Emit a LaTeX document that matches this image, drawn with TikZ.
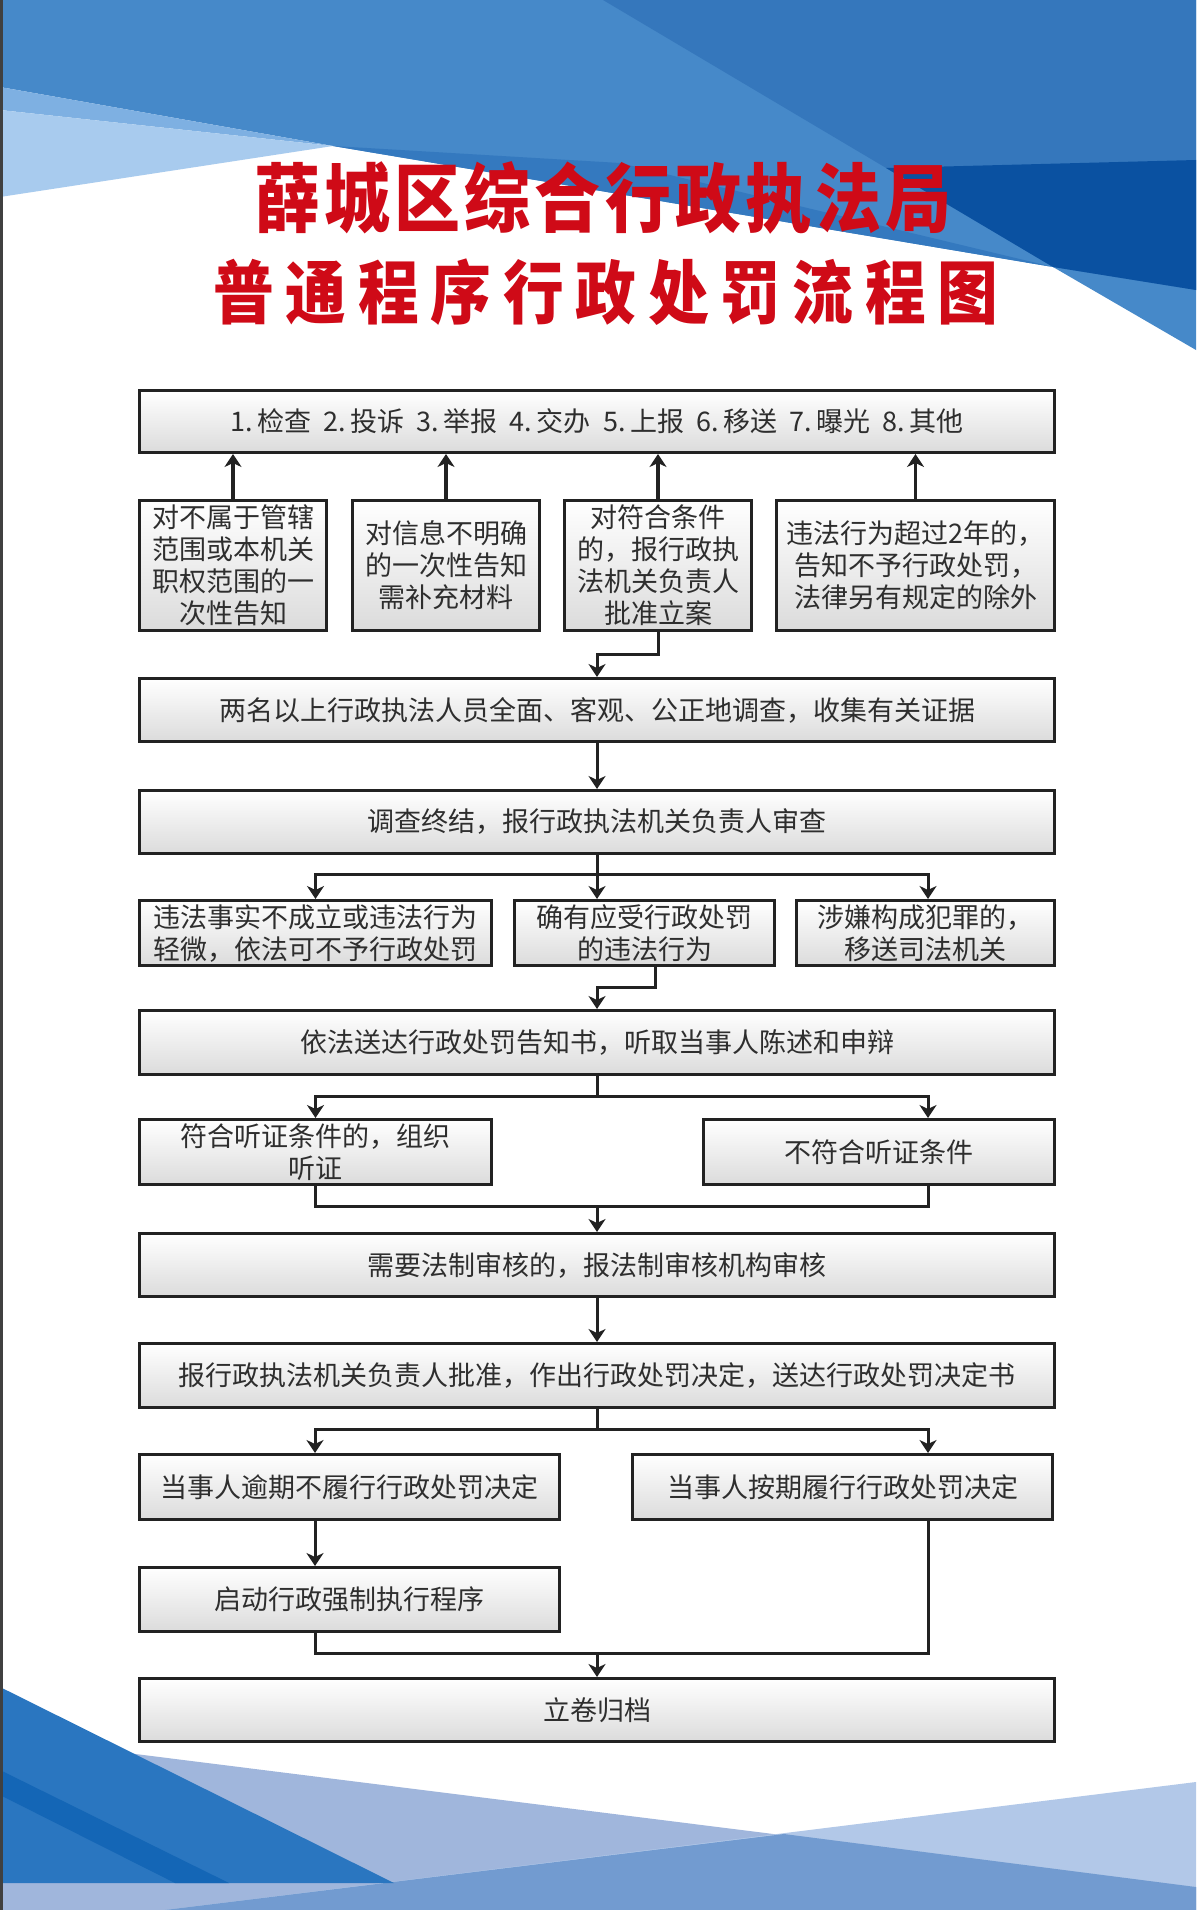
\documentclass[tikz,border=0pt]{standalone}
\usepackage{fontspec}
\newfontfamily\cjk{Noto Sans CJK SC}
\newfontfamily\ttlA{Noto Sans CJK SC}[FakeStretch=0.88, LetterSpace=5.5]
\newfontfamily\ttlB{Noto Sans CJK SC}[FakeStretch=0.88, LetterSpace=17]
\usetikzlibrary{arrows.meta}
\definecolor{bgmid}{HTML}{4689C9}
\definecolor{bgdark}{HTML}{3577BC}
\definecolor{bgdeep}{HTML}{0A51A1}
\definecolor{bgstripe}{HTML}{3479BF}
\definecolor{bgband}{HTML}{7EB0E2}
\definecolor{bgpale}{HTML}{A8CBEE}
\definecolor{bgTa}{HTML}{A0B6DC}
\definecolor{bgTb}{HTML}{B2C8E8}
\definecolor{bgOv}{HTML}{729BD0}
\definecolor{bgBL}{HTML}{2A76C0}
\definecolor{bgBS}{HTML}{1466B6}
\definecolor{boxline}{HTML}{222222}
\definecolor{boxtext}{HTML}{2E2E2E}
\definecolor{titlered}{HTML}{CF0A17}
\begin{document}
\begin{tikzpicture}[x=1pt,y=-1pt,
  box/.style={draw=boxline, line width=3pt, top color=white, bottom color=black!14,
    text=boxtext, font=\cjk\fontsize{27}{32}\selectfont, align=center, inner sep=0pt},
  conn/.style={draw=boxline, line width=3pt},
  arr/.style={conn, -{Stealth[length=13pt,width=17pt,inset=4pt]}},
  uparr/.style={arr, line width=3.6pt},
  ttl/.style={text=titlered, inner sep=0pt}
]
\useasboundingbox (0,0) rectangle (1196,1910);
\fill[white] (0,0) rectangle (1196,1910);
% top background
\fill[bgmid] (0,0) -- (1196,0) -- (1196,350) -- (1053,267) -- (333,146) -- (0,87) -- cycle;
\fill[bgdark] (603,0) -- (1196,0) -- (1196,290) -- (1053,267) -- cycle;
\fill[bgdeep] (886,168) -- (1196,160) -- (1196,290) -- (1053,267) -- cycle;
\fill[bgstripe] (333,146) -- (620,163) -- (1053,267) -- cycle;
\fill[bgband] (0,87) -- (333,146) -- (0,110) -- cycle;
\fill[bgpale] (0,110) -- (333,146) -- (0,197) -- cycle;
% bottom background
\fill[bgTa] (0,1737) -- (1196,1887) -- (1196,1910) -- (0,1910) -- cycle;
\fill[bgTb] (165,1910) -- (1196,1782) -- (1196,1910) -- cycle;
\fill[bgOv] (165,1910) -- (784,1834) -- (1196,1887) -- (1196,1910) -- cycle;
\fill[bgBL] (0,1687) -- (394,1883) -- (0,1883) -- cycle;
\fill[bgBS] (0,1770) -- (229,1883) -- (175,1883) -- (0,1795) -- cycle;
\fill[black!75] (0,0) rectangle (3,1910);

% title
\node[ttl, font=\ttlA\bfseries\fontsize{75}{75}\selectfont] (t1) at (603,197.5) {薛城区综合行政执法局};
\node[ttl, font=\ttlB\bfseries\fontsize{69}{69}\selectfont] (t2) at (606,292.5) {普通程序行政处罚流程图};

% boxes
\node[box, minimum width=915pt, minimum height=62pt] (top) at (597,421.5)
  {1.\,检查\hspace{0.45em}2.\,投诉\hspace{0.45em}3.\,举报\hspace{0.45em}4.\,交办\hspace{0.45em}5.\,上报\hspace{0.45em}6.\,移送\hspace{0.45em}7.\,曝光\hspace{0.45em}8.\,其他};
\node[box, minimum width=187pt, minimum height=130pt] (b1) at (233,565.5) {对不属于管辖\\范围或本机关\\职权范围的一\\次性告知};
\node[box, minimum width=187pt, minimum height=130pt] (b2) at (446,565.5) {对信息不明确\\的一次性告知\\需补充材料};
\node[box, minimum width=187pt, minimum height=130pt] (b3) at (658,565.5) {对符合条件\\的，报行政执\\法机关负责人\\批准立案};
\node[box, minimum width=278pt, minimum height=130pt] (b4) at (915.5,565.5) {违法行为超过2年的，\\告知不予行政处罚，\\法律另有规定的除外};
\node[box, minimum width=915pt, minimum height=63pt] (inv) at (597,710) {两名以上行政执法人员全面、客观、公正地调查，收集有关证据};
\node[box, minimum width=915pt, minimum height=63pt] (rev) at (597,822) {调查终结，报行政执法机关负责人审查};
\node[box, minimum width=352pt, minimum height=65pt] (c1) at (315.5,933) {违法事实不成立或违法行为\\轻微，依法可不予行政处罚};
\node[box, minimum width=260pt, minimum height=65pt] (c2) at (644.5,933) {确有应受行政处罚\\的违法行为};
\node[box, minimum width=258pt, minimum height=65pt] (c3) at (925.5,933) {涉嫌构成犯罪的，\\移送司法机关};
\node[box, minimum width=915pt, minimum height=64pt] (d) at (597,1042.5) {依法送达行政处罚告知书，听取当事人陈述和申辩};
\node[box, minimum width=352pt, minimum height=65pt] (e1) at (315.5,1152) {符合听证条件的，组织\\听证};
\node[box, minimum width=351pt, minimum height=65pt] (e2) at (879,1152) {不符合听证条件};
\node[box, minimum width=915pt, minimum height=63pt] (f) at (597,1265) {需要法制审核的，报法制审核机构审核};
\node[box, minimum width=915pt, minimum height=64pt] (g) at (597,1375.5) {报行政执法机关负责人批准，作出行政处罚决定，送达行政处罚决定书};
\node[box, minimum width=420pt, minimum height=65pt] (h1) at (349.5,1487) {当事人逾期不履行行政处罚决定};
\node[box, minimum width=420pt, minimum height=65pt] (h2) at (842.5,1487) {当事人按期履行行政处罚决定};
\node[box, minimum width=420pt, minimum height=64pt] (i) at (349.5,1599.5) {启动行政强制执行程序};
\node[box, minimum width=915pt, minimum height=63pt] (j) at (597,1710) {立卷归档};

% connectors
\foreach \n in {b1,b2,b3,b4} \draw[uparr] (\n.north) -- (\n.north |- top.south);
\draw[arr] (b3.south) -- ++(0,22) -| (inv.north);
\draw[arr] (inv.south) -- (rev.north);
\coordinate (s1) at (597,874);
\draw[conn] (rev.south) -- (s1);
\draw[arr] (s1) -| (c1.north);
\draw[arr] (s1) -| ([xshift=2.5pt]c3.north);
\draw[arr] (s1) -- (s1 |- c2.north);
\draw[arr] ([xshift=11pt]c2.south) -- ++(0,20) -| (d.north);
\coordinate (s2) at (597,1096);
\draw[conn] (d.south) -- (s2);
\draw[arr] (s2) -| (e1.north);
\draw[arr] (s2) -| ([xshift=49pt]e2.north);
\coordinate (m1) at (597,1206);
\draw[conn] (e1.south) |- (m1);
\draw[conn] ([xshift=49pt]e2.south) |- (m1);
\draw[arr] (m1) -- (f.north);
\draw[arr] (f.south) -- (g.north);
\coordinate (s3) at (597,1429);
\draw[conn] (g.south) -- (s3);
\draw[arr] (s3) -| ([xshift=-34.5pt]h1.north);
\draw[arr] (s3) -| ([xshift=85.5pt]h2.north);
\draw[arr] ([xshift=-34.5pt]h1.south) -- ([xshift=-34.5pt]i.north);
\coordinate (m2) at (597,1653);
\draw[conn] ([xshift=-34.5pt]i.south) |- (m2);
\draw[conn] ([xshift=85.5pt]h2.south) |- (m2);
\draw[arr] (m2) -- (j.north);
\end{tikzpicture}
\end{document}
